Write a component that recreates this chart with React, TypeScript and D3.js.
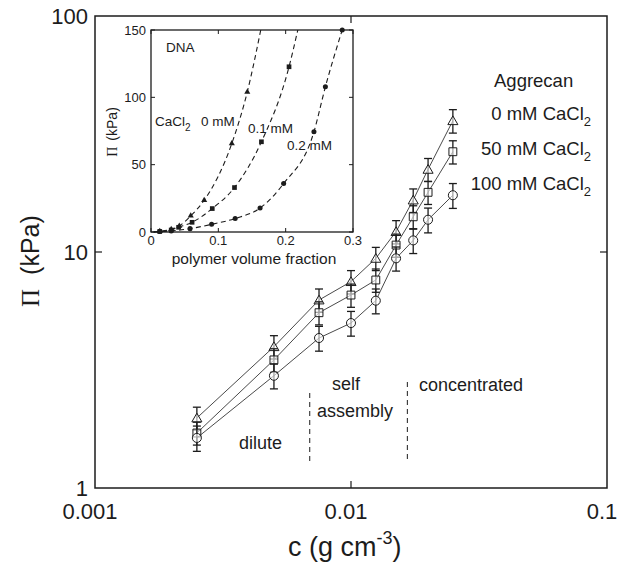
import React from "react";
import * as d3 from "d3";

// Aggrecan osmotic pressure, main log-log panel
const conc = [0.0025, 0.005, 0.0075, 0.01, 0.0125, 0.015, 0.0175, 0.02, 0.025];
const pi0mM = [1.98, 3.97, 6.26, 7.49, 9.4, 12.2, 16.6, 22.4, 36.0];
const pi50mM = [1.71, 3.49, 5.53, 6.57, 7.61, 10.7, 14.1, 17.9, 26.6];
const pi100mM = [1.63, 2.99, 4.32, 5.0, 6.22, 9.4, 11.2, 13.7, 17.4];
const err0mM = [0.22, 0.45, 0.71, 0.85, 1.06, 1.38, 1.9, 2.5, 4.1];
const err50mM = [0.19, 0.4, 0.62, 0.74, 0.86, 1.2, 1.6, 2.0, 3.0];
const err100mM = [0.2, 0.36, 0.52, 0.6, 0.75, 1.1, 1.35, 1.65, 2.1];
const legendLabels = ["0 mM CaCl", "50 mM CaCl", "100 mM CaCl"];
const regionBounds = [0.0069, 0.0166];

// DNA inset, linear axes
const dnaPhi0 = [0.013, 0.03, 0.042, 0.059, 0.079, 0.12, 0.143];
const dnaPi0 = [0.5, 2.0, 4.5, 12.0, 23.6, 65.7, 104];
const dnaPhi1 = [0.013, 0.03, 0.041, 0.061, 0.091, 0.124, 0.164, 0.205];
const dnaPi1 = [0.4, 1.5, 3.5, 7.2, 17.4, 33, 67, 122.7];
const dnaPhi2 = [0.013, 0.03, 0.058, 0.09, 0.125, 0.162, 0.197, 0.242, 0.259, 0.284];
const dnaPi2 = [0.3, 0.8, 2.5, 5.7, 10.0, 17.8, 36, 74.4, 107.8, 150];
// where the dashed fits leave the top of the inset
const fitEnd0 = [0.163, 150];
const fitEnd1 = [0.218, 150];
const insetXTicks = [0, 0.1, 0.2, 0.3];
const insetYTicks = [0, 50, 100, 150];

const FONT = "'Liberation Sans', Arial, Helvetica, sans-serif";
const INK = "#1c1c1c";

export default function App() {
  const x = d3.scaleLog().domain([0.001, 0.1]).range([95, 607]);
  const y = d3.scaleLog().domain([1, 100]).range([488, 16]);

  const ix = d3.scaleLinear().domain([0, 0.3]).range([151, 353]);
  const iy = d3.scaleLinear().domain([0, 150]).range([232, 30]);

  const series = [
    { vals: pi0mM, errs: err0mM, sym: d3.symbolTriangle, size: 44 },
    { vals: pi50mM, errs: err50mM, sym: d3.symbolSquare, size: 62 },
    { vals: pi100mM, errs: err100mM, sym: d3.symbolCircle, size: 64 },
  ];

  const line = d3
    .line<number>()
    .x((_, i) => x(conc[i]))
    .y((d) => y(d));

  const dnaSeries = [
    { phi: dnaPhi0, pi: dnaPi0, end: fitEnd0, sym: d3.symbolTriangle, size: 16 },
    { phi: dnaPhi1, pi: dnaPi1, end: fitEnd1, sym: d3.symbolSquare, size: 22 },
    { phi: dnaPhi2, pi: dnaPi2, end: null, sym: d3.symbolCircle, size: 20 },
  ];

  const fit = d3
    .line<number[]>()
    .x((d) => ix(d[0]))
    .y((d) => iy(d[1]))
    .curve(d3.curveMonotoneX);

  const xTicks = [0.001, 0.01, 0.1];
  const yTicks = [1, 10, 100];
  const tickLabel = (v: number) => (v < 1 ? String(v) : d3.format("d")(v));

  return (
    <svg
      width={629}
      height={563}
      style={{ position: "absolute", left: 0, top: 0, background: "#fff" }}
      fontFamily={FONT}
    >
      {/* main frame */}
      <rect x={95} y={16} width={512} height={472} fill="none" stroke={INK} strokeWidth={1.5} />
      {xTicks.slice(1, -1).map((t) => (
        <g key={"xt" + t} stroke={INK} strokeWidth={1.2}>
          <line x1={x(t)} x2={x(t)} y1={488} y2={481} />
          <line x1={x(t)} x2={x(t)} y1={16} y2={23} />
        </g>
      ))}
      {yTicks.slice(1, -1).map((t) => (
        <g key={"yt" + t} stroke={INK} strokeWidth={1.2}>
          <line x1={95} x2={102} y1={y(t)} y2={y(t)} />
          <line x1={607} x2={600} y1={y(t)} y2={y(t)} />
        </g>
      ))}
      {xTicks.map((t) => (
        <text key={"xl" + t} x={x(t) - 5} y={519} fontSize={22} textAnchor="middle" fill={INK}>
          {tickLabel(t)}
        </text>
      ))}
      {yTicks.map((t) => (
        <text key={"yl" + t} x={88} y={y(t) + 8} fontSize={22} textAnchor="end" fill={INK}>
          {tickLabel(t)}
        </text>
      ))}

      {/* axis titles */}
      <text x={288} y={556} fontSize={27} fill={INK}>
        c (g cm
        <tspan dy={-12} fontSize={18}>-3</tspan>
        <tspan dy={12}>)</tspan>
      </text>
      <text transform="translate(39,307) rotate(-90)" fontSize={25} fill={INK}>
        <tspan fontFamily="'Liberation Serif', 'Times New Roman', serif">Π</tspan>
        <tspan dx={14}>(kPa)</tspan>
      </text>

      {/* region separators */}
      <line x1={x(regionBounds[0])} x2={x(regionBounds[0])} y1={393} y2={463} stroke={INK} strokeWidth={1} strokeDasharray="5,4" />
      <line x1={x(regionBounds[1])} x2={x(regionBounds[1])} y1={382} y2={463} stroke={INK} strokeWidth={1} strokeDasharray="5,4" />
      <g fontSize={18} fill={INK}>
        <text x={239} y={449}>dilute</text>
        <text x={332} y={390}>self</text>
        <text x={317} y={417}>assembly</text>
        <text x={419} y={391}>concentrated</text>
      </g>

      {/* aggrecan series */}
      {series.map((s, k) => (
        <g key={"s" + k}>
          <path d={line(s.vals) || ""} fill="none" stroke={INK} strokeWidth={0.8} />
          {s.vals.map((v, i) => {
            const cx = x(conc[i]);
            const top = y(v + s.errs[i]);
            const bot = y(v - s.errs[i]);
            return (
              <g key={i} stroke={INK} strokeWidth={1.3}>
                <line x1={cx} x2={cx} y1={top} y2={bot} />
                <line x1={cx - 4} x2={cx + 4} y1={top} y2={top} />
                <line x1={cx - 4} x2={cx + 4} y1={bot} y2={bot} />
              </g>
            );
          })}
          {s.vals.map((v, i) => (
            <path
              key={"m" + i}
              d={d3.symbol(s.sym, s.size)() || ""}
              transform={`translate(${x(conc[i])},${y(v) + (k === 0 ? 1 : 0)})`}
              fill="#fff"
              fillOpacity={0.6}
              stroke={INK}
              strokeWidth={1}
            />
          ))}
        </g>
      ))}

      {/* legend */}
      <g fontSize={18.5} fill={INK}>
        <text x={494} y={87}>Aggrecan</text>
        {legendLabels.map((l, i) => (
          <text key={l} x={591} y={120 + i * 35} textAnchor="end">
            {l}
            <tspan dy={6} fontSize={13}>2</tspan>
          </text>
        ))}
      </g>

      {/* inset */}
      <rect x={151} y={30} width={202} height={202} fill="#fff" stroke={INK} strokeWidth={1.3} />
      {insetYTicks.map((t) => (
        <g key={"iy" + t}>
          <line x1={151} x2={155} y1={iy(t)} y2={iy(t)} stroke={INK} />
          <line x1={353} x2={349} y1={iy(t)} y2={iy(t)} stroke={INK} />
          <text x={146} y={iy(t) + 4.5} fontSize={13} textAnchor="end" fill={INK}>
            {t}
          </text>
        </g>
      ))}
      {insetXTicks.map((t) => (
        <g key={"ix" + t}>
          <line x1={ix(t)} x2={ix(t)} y1={232} y2={228} stroke={INK} />
          <line x1={ix(t)} x2={ix(t)} y1={30} y2={34} stroke={INK} />
          <text x={ix(t)} y={245} fontSize={13} textAnchor="middle" fill={INK}>
            {t}
          </text>
        </g>
      ))}
      <text x={254} y={264} fontSize={15.5} textAnchor="middle" fill={INK}>
        polymer volume fraction
      </text>
      <text transform="translate(117,132) rotate(-90)" fontSize={14} textAnchor="middle" fill={INK}>
        <tspan fontFamily="'Liberation Serif', 'Times New Roman', serif">Π</tspan>
        <tspan dx={6}>(kPa)</tspan>
      </text>
      {dnaSeries.map((s, k) => {
        const pts = s.phi.map((p, i) => [p, s.pi[i]]);
        const all = [[0.004, 0], ...pts, ...(s.end ? [s.end] : [])];
        return (
          <g key={"d" + k}>
            <path d={fit(all) || ""} fill="none" stroke={INK} strokeWidth={1.1} strokeDasharray="5,3.5" />
            {pts.map((p, i) => (
              <path
                key={i}
                d={d3.symbol(s.sym, s.size)() || ""}
                transform={`translate(${ix(p[0])},${iy(p[1])})`}
                fill={INK}
              />
            ))}
          </g>
        );
      })}
      <g fontSize={13.5} fill={INK}>
        <text x={166} y={52}>DNA</text>
        <text x={155} y={126}>
          CaCl<tspan dy={5} fontSize={10}>2</tspan>
        </text>
        <text x={201} y={126}>0 mM</text>
        <text x={248} y={133}>0.1 mM</text>
        <text x={287} y={150}>0.2 mM</text>
      </g>
    </svg>
  );
}
